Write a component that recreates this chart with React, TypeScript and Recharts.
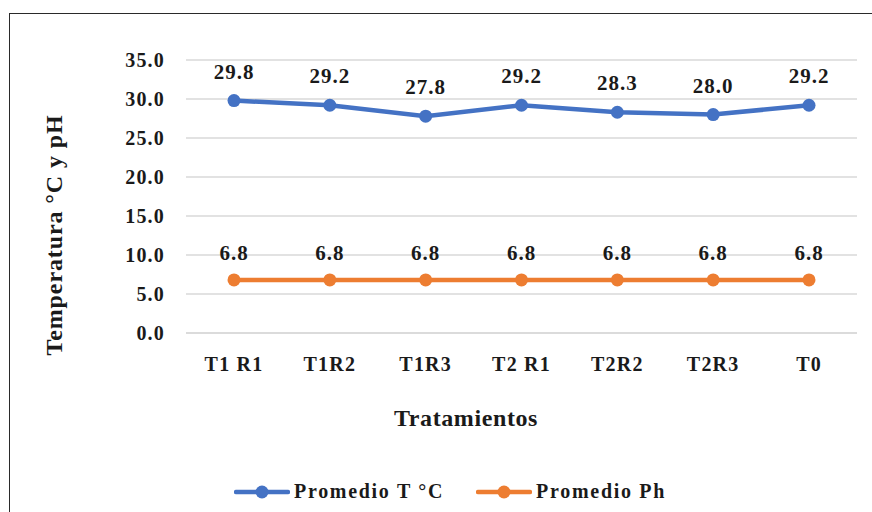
import React from "react";
import { LineChart, Line, XAxis, YAxis, CartesianGrid, LabelList } from "recharts";

const tratamientos = ["T1 R1", "T1R2", "T1R3", "T2 R1", "T2R2", "T2R3", "T0"];
const promedioTemp = [29.8, 29.2, 27.8, 29.2, 28.3, 28.0, 29.2];
const promedioPh = [6.8, 6.8, 6.8, 6.8, 6.8, 6.8, 6.8];
const yTicks = [0, 5, 10, 15, 20, 25, 30, 35];

const BLUE = "#4472C4";
const ORANGE = "#ED7D31";
const FONT = "'Liberation Serif', 'Times New Roman', serif";

const data = tratamientos.map((t, i) => ({
  name: t,
  temp: promedioTemp[i],
  ph: promedioPh[i],
}));

const tickStyle = {
  fontFamily: FONT,
  fontWeight: 700,
  fontSize: 20,
  fill: "#1a1a1a",
  letterSpacing: 1.2,
};

const labelStyle = {
  fontFamily: FONT,
  fontWeight: 700,
  fontSize: 21,
  fill: "#1a1a1a",
  letterSpacing: 1,
};

function LegendItem({ color, text }: { color: string; text: string }) {
  return (
    <div style={{ display: "flex", alignItems: "center", gap: 4 }}>
      <svg width={56} height={16}>
        <line x1={2} y1={8} x2={54} y2={8} stroke={color} strokeWidth={4.5} strokeLinecap="round" />
        <circle cx={28} cy={8} r={6.5} fill={color} />
      </svg>
      <span style={{ fontFamily: FONT, fontWeight: 700, fontSize: 20, letterSpacing: 1.7, color: "#1a1a1a" }}>
        {text}
      </span>
    </div>
  );
}

export default function App() {
  return (
    <div style={{ position: "absolute", left: 0, top: 0, width: 872, height: 512, overflow: "hidden", background: "#fff" }}>
      <div
        style={{
          position: "absolute",
          left: 9,
          top: 13,
          width: 900,
          height: 540,
          border: "1.5px solid #2a2a2a",
        }}
      />
      <div style={{ position: "absolute", left: 0, top: 0 }}>
        <LineChart
          width={872}
          height={512}
          data={data}
          margin={{ top: 60, right: 15, left: 106, bottom: 149 }}
        >
          <CartesianGrid vertical={false} stroke="#d9d9d9" strokeWidth={1.5} />
          <XAxis
            dataKey="name"
            padding={{ left: 48, right: 48 }}
            axisLine={{ stroke: "#d9d9d9", strokeWidth: 1.5 }}
            tickLine={false}
            tickSize={6}
            tickMargin={18}
            height={30}
            tick={tickStyle}
            interval={0}
            label={{
              content: () => (
                <text
                  x={466}
                  y={426}
                  textAnchor="middle"
                  style={{ fontFamily: FONT, fontWeight: 700, fontSize: 24, fill: "#1a1a1a", letterSpacing: 0.6 }}
                >
                  Tratamientos
                </text>
              ),
            }}
          />
          <YAxis
            domain={[0, 35]}
            ticks={yTicks}
            width={80}
            axisLine={false}
            tickLine={false}
            tickSize={6}
            tickMargin={15}
            tick={tickStyle}
            tickFormatter={(v: number) => v.toFixed(1)}
            label={{
              content: () => (
                <text
                  x={0}
                  y={0}
                  transform="translate(62 235) rotate(-90)"
                  textAnchor="middle"
                  style={{ fontFamily: FONT, fontWeight: 700, fontSize: 24, fill: "#1a1a1a", letterSpacing: 0.9 }}
                >
                  Temperatura °C y pH
                </text>
              ),
            }}
          />
          <Line
            dataKey="temp"
            stroke={BLUE}
            strokeWidth={4.5}
            dot={{ r: 6.5, fill: BLUE, stroke: BLUE, strokeWidth: 0 }}
            activeDot={false}
            isAnimationActive={false}
          >
            <LabelList dataKey="temp" position="top" offset={22} style={labelStyle} formatter={(v: number) => v.toFixed(1)} />
          </Line>
          <Line
            dataKey="ph"
            stroke={ORANGE}
            strokeWidth={4.5}
            dot={{ r: 6.5, fill: ORANGE, stroke: ORANGE, strokeWidth: 0 }}
            activeDot={false}
            isAnimationActive={false}
          >
            <LabelList dataKey="ph" position="top" offset={20} style={labelStyle} formatter={(v: number) => v.toFixed(1)} />
          </Line>
        </LineChart>
      </div>
      <div
        style={{
          position: "absolute",
          left: 234,
          top: 480,
          display: "flex",
          alignItems: "center",
          gap: 32,
        }}
      >
        <LegendItem color={BLUE} text="Promedio T °C" />
        <LegendItem color={ORANGE} text="Promedio Ph" />
      </div>
    </div>
  );
}
